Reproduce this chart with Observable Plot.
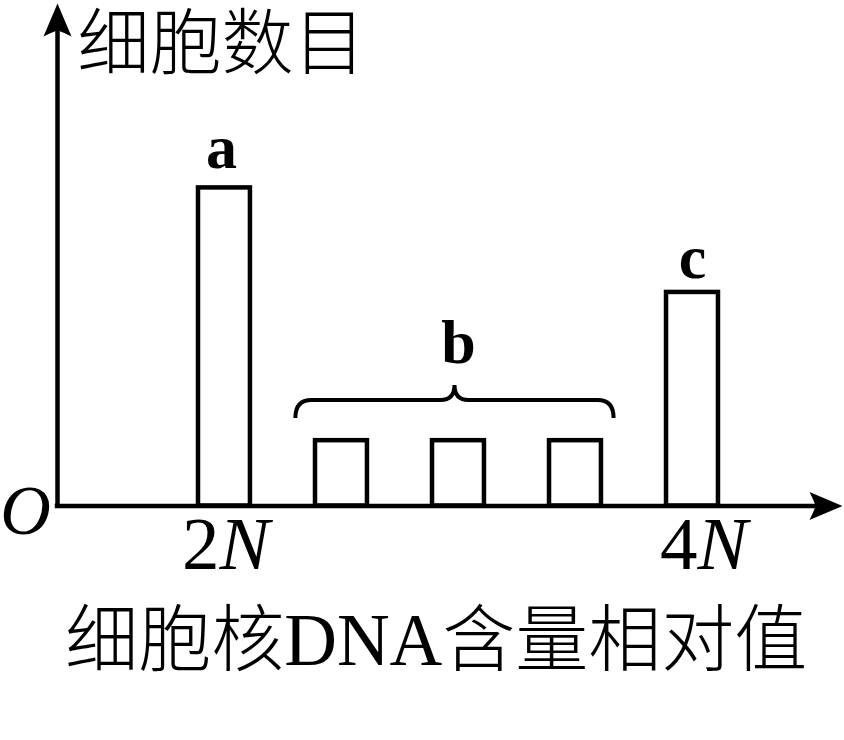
<!DOCTYPE html>
<html>
<head>
<meta charset="utf-8">
<script src="https://cdn.jsdelivr.net/npm/d3@7"></script>
<script src="https://cdn.jsdelivr.net/npm/@observablehq/plot@0.6"></script>
<style>
  html, body { margin: 0; padding: 0; background: #fff; }
  #chart svg { display: block; }
</style>
</head>
<body>
<div id="chart"></div>
<script>
// ---- data ----
const barGroups = ["a", "b", "b", "b", "c"];
const barPositions = [1, 2, 3, 4, 5];
const barValues = [6.33, 1.30, 1.30, 1.30, 4.25];

const groupLabels = ["a", "b", "c"];
const groupLabelX = [0.974, 3.0, 5.0];
const groupLabelY = [6.736, 2.836, 4.547];

const tickNumbers = ["2", "4"];
const tickSplit = [0.957, 5.043];

const braceRange = [1.61, 4.33];
const braceLevel = 2.10;

const xExtent = [-0.427, 6.282];
const yExtent = [0, 10];

const yTitle = "细胞数目";
const xTitle = "细胞核DNA含量相对值";
const originLabel = "O";

// ---- derived tables ----
const barHalf = 0.222;
const bars = barPositions.map((p, i) => ({group: barGroups[i], x1: p - barHalf, x2: p + barHalf, v: barValues[i]}));
const labels = groupLabels.map((t, i) => ({t, x: groupLabelX[i], y: groupLabelY[i]}));
const ticks = tickNumbers.map((t, i) => ({t, x: tickSplit[i]}));

// custom arrowhead symbol (pointing up, tip at origin)
const arrowHead = {
  draw(ctx) {
    ctx.moveTo(0, 0);
    ctx.lineTo(14, 33);
    ctx.quadraticCurveTo(4, 28, 0, 27);
    ctx.quadraticCurveTo(-4, 28, -14, 33);
    ctx.closePath();
  }
};

const serif = "'Liberation Serif', 'DejaVu Serif', serif";
const cjk = "'Liberation Serif', 'Noto Sans CJK SC', sans-serif";

const braceMark = (index, scales) => {
  const x0 = scales.x(braceRange[0]);
  const x1 = scales.x(braceRange[1]);
  const xc = (x0 + x1) / 2;
  const yL = scales.y(braceLevel);
  const d = `M${x0},${yL + 18} Q${x0},${yL} ${x0 + 16},${yL} L${xc - 14},${yL} Q${xc},${yL} ${xc},${yL - 15} Q${xc},${yL} ${xc + 14},${yL} L${x1 - 16},${yL} Q${x1},${yL} ${x1},${yL + 18}`;
  const path = d3.create("svg:path")
    .attr("d", d)
    .attr("fill", "none")
    .attr("stroke", "black")
    .attr("stroke-width", 4);
  return path.node();
};

const chart = Plot.plot({
  width: 844,
  height: 740,
  marginTop: 3,
  marginBottom: 234.5,
  marginLeft: 57,
  marginRight: 2,
  x: {domain: xExtent, axis: null},
  y: {domain: yExtent, axis: null},
  marks: [
    // bars
    Plot.rect(bars, {x1: "x1", x2: "x2", y1: 0, y2: "v", fill: "white", stroke: "black", strokeWidth: 4.5}),
    // axes
    Plot.ruleY([0], {x1: xExtent[0], x2: xExtent[1] - 0.2, stroke: "black", strokeWidth: 4.5, strokeLinecap: "square"}),
    Plot.ruleX([xExtent[0]], {y1: 0, y2: yExtent[1] - 0.45, stroke: "black", strokeWidth: 4.5, strokeLinecap: "square"}),
    Plot.dot([[xExtent[0], yExtent[1], 0], [xExtent[1], 0, 90]], {x: d => d[0], y: d => d[1], rotate: d => d[2], symbol: arrowHead, fill: "black", stroke: "none", r: 10}),
    // brace
    braceMark,
    // group labels
    Plot.text(labels, {x: "x", y: "y", text: "t", fontFamily: serif, fontWeight: "bold", fontSize: 62, lineAnchor: "bottom", fill: "black"}),
    // tick labels
    Plot.text(ticks, {x: "x", y: 0, dy: 62.5, text: "t", fontFamily: serif, fontSize: 75, textAnchor: "end", lineAnchor: "bottom", fill: "black"}),
    Plot.text(ticks, {x: "x", y: 0, dy: 62.5, text: () => "N", fontFamily: serif, fontStyle: "italic", fontSize: 75, textAnchor: "start", lineAnchor: "bottom", fill: "black"}),
    // origin
    Plot.text([originLabel], {x: xExtent[0], y: 0, dx: -32, dy: 28, text: d => d, fontFamily: serif, fontStyle: "italic", fontSize: 70, textAnchor: "middle", lineAnchor: "bottom", fill: "black"}),
    // y title
    Plot.text([yTitle], {x: xExtent[0], y: yExtent[1], dx: 20, dy: 64, text: d => d, fontFamily: cjk, fontWeight: 300, fontSize: 72, textAnchor: "start", lineAnchor: "bottom", fill: "black"}),
    // x title
    Plot.text([xTitle], {x: 2.81, y: 0, dy: 159, text: d => d, fontFamily: cjk, fontWeight: 300, fontSize: 73, textAnchor: "middle", lineAnchor: "bottom", fill: "black"})
  ]
});

document.getElementById("chart").appendChild(chart);
</script>
</body>
</html>
